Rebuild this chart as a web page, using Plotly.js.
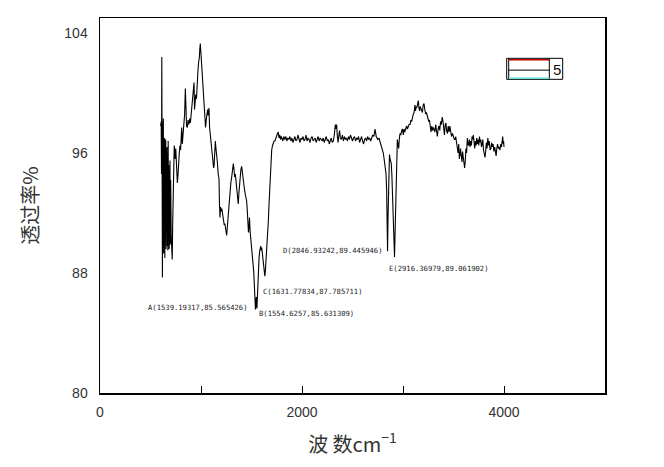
<!DOCTYPE html>
<html>
<head>
<meta charset="utf-8">
<script src="https://cdn.plot.ly/plotly-3.0.1.min.js"></script>
<style>html,body{margin:0;padding:0;background:#fff;}#chart{width:664px;height:467px;}</style>
</head>
<body>
<div id="chart"></div>
<script>
// Wavenumber (cm-1)
var wavenumber = [
600,603,606,609,612,615,618,621,624,627,
630,633,636,639,642,645,648,651,654,657,
660,663,666,669,672,675,678,681,684,687,
690,693,696,700,705,710,715,720,725,730,
735,740,745,750,755,760,766,772,778,785,
792,798,804,809,815,822,830,838,845,850,
857,865,872,880,888,895,903,911,918,924,
931,936,942,948,955,962,970,977,983,988,
993,998,1003,1010,1017,1023,1030,1036,1040,1045,
1052,1058,1065,1072,1079,1085,1092,1100,1106,1112,
1118,1125,1130,1136,1142,1148,1155,1162,1170,1178,
1183,1188,1194,1200,1206,1212,1218,1224,1230,1236,
1242,1248,1254,1260,1266,1272,1280,1287,1295,1304,
1312,1320,1327,1333,1340,1347,1355,1362,1369,1375,
1381,1388,1395,1403,1410,1416,1423,1430,1437,1445,
1452,1458,1464,1470,1476,1480,1486,1492,1498,1504,
1510,1516,1522,1528,1533,1539,1543,1547,1550,1554,
1558,1562,1568,1574,1580,1586,1591,1596,1601,1606,
1612,1617,1622,1627,1632,1637,1643,1650,1656,1662,
1667,1673,1678,1683,1690,1695,1700,1708,1716,1724,
1732,1740,1749,1757,1765,1772,1780,1788,1795,1803,
1811,1820,1830,1840,1850,1860,1870,1880,1890,1900,
1910,1920,1930,1940,1950,1960,1970,1980,1990,2000,
2010,2020,2030,2040,2050,2060,2070,2080,2090,2100,
2110,2120,2130,2140,2150,2160,2170,2180,2190,2200,
2210,2220,2230,2240,2250,2260,2270,2280,2290,2300,
2310,2320,2330,2337,2343,2350,2357,2365,2372,2380,
2390,2400,2410,2420,2430,2440,2450,2460,2470,2480,
2490,2500,2510,2520,2530,2540,2550,2560,2570,2580,
2590,2600,2610,2620,2630,2640,2650,2660,2670,2680,
2690,2700,2712,2723,2735,2750,2762,2772,2785,2795,
2805,2815,2825,2832,2838,2842,2847,2852,2857,2861,
2866,2872,2878,2884,2890,2896,2902,2908,2912,2916,
2921,2926,2931,2937,2944,2950,2957,2963,2970,2977,
2985,2992,2997,3003,3010,3018,3026,3036,3044,3052,
3060,3070,3078,3086,3094,3102,3110,3118,3124,3130,
3136,3144,3152,3158,3164,3170,3176,3184,3192,3200,
3208,3216,3224,3232,3240,3248,3255,3262,3270,3277,
3285,3292,3300,3308,3316,3324,3332,3340,3348,3356,
3364,3372,3380,3389,3396,3404,3410,3418,3425,3432,
3440,3448,3456,3464,3472,3480,3490,3500,3508,3515,
3522,3530,3537,3545,3552,3558,3564,3570,3577,3584,
3590,3597,3604,3610,3617,3623,3630,3637,3643,3650,
3657,3664,3670,3677,3684,3690,3696,3703,3710,3717,
3724,3730,3737,3744,3750,3757,3764,3770,3777,3784,
3790,3797,3804,3812,3818,3825,3832,3840,3847,3854,
3862,3870,3878,3885,3892,3900,3908,3915,3922,3929,
3936,3944,3952,3960,3968,3975,3982,3987,3992,3996,
4000
];
// Transmittance (%)
var transmittance = [
97.8,95.0,98.1,94.6,102.4,88.2,87.7,97.2,89.9,98.3,
89.3,96.2,90.4,97.0,89.0,96.4,90.3,96.9,89.6,95.8,
90.0,96.4,89.8,95.9,89.5,96.8,90.2,95.2,89.6,94.8,
90.4,95.5,89.9,94.2,90.5,89.6,88.9,91.4,93.6,95.3,
96.5,96.1,95.6,96.3,95.6,95.0,94.0,94.5,95.9,96.0,
96.5,96.2,97.0,97.7,96.6,97.2,98.0,98.6,100.3,99.0,
97.8,97.7,98.2,97.9,98.3,98.0,98.7,99.0,99.6,100.6,
100.7,98.9,99.3,99.9,99.6,100.8,101.5,102.1,102.3,102.9,
103.3,102.8,102.2,101.3,100.9,100.5,99.6,98.8,98.1,97.7,
98.2,98.6,98.9,98.5,99.0,97.7,97.2,96.6,96.2,96.0,
95.3,95.0,95.2,96.1,96.8,96.3,96.0,95.4,94.6,94.3,
92.6,91.7,92.4,92.1,92.3,92.0,91.8,91.5,91.2,91.3,
91.0,90.6,90.5,91.0,91.6,92.4,93.1,93.7,94.0,94.4,
95.0,95.3,94.9,94.4,94.6,94.0,93.6,93.2,92.6,93.3,
94.0,94.5,94.9,95.1,94.6,94.2,93.9,93.6,93.3,93.0,
92.8,92.2,91.5,90.7,91.2,91.7,90.8,90.3,89.9,89.6,
89.2,88.9,88.1,87.2,86.3,85.57,85.9,86.4,86.1,85.63,
86.6,87.4,88.2,88.9,89.4,89.7,89.8,89.5,89.7,89.4,
89.1,88.8,88.4,88.0,87.79,88.1,88.7,89.3,90.1,90.9,
91.5,92.5,93.3,94.2,95.2,95.8,96.2,96.5,96.7,96.8,
96.8,97.0,97.1,97.3,97.4,97.0,97.2,96.9,97.1,97.0,
96.8,97.1,96.9,97.1,96.8,97.0,96.9,97.1,96.8,97.0,
96.7,96.9,97.1,96.8,96.9,97.2,96.9,96.7,97.0,96.9,
97.1,96.8,96.9,97.2,96.8,97.0,96.9,96.7,97.0,97.1,
96.8,96.9,97.0,96.7,96.9,97.1,96.8,97.0,96.9,96.8,
97.0,96.7,96.9,97.1,96.8,96.9,96.6,96.8,97.0,96.7,
96.8,97.2,97.9,97.6,97.9,97.1,96.7,97.2,97.5,97.0,
96.9,97.2,96.8,97.1,96.9,97.0,96.8,97.1,96.9,97.2,
96.9,96.8,97.0,97.1,96.8,97.0,96.9,97.1,96.7,96.9,
97.1,96.8,96.6,96.9,97.0,96.8,97.1,96.9,97.0,96.8,
97.0,97.2,97.1,97.6,97.1,96.9,97.0,96.8,96.5,96.3,
96.0,95.5,94.9,94.6,93.5,91.5,89.45,91.8,94.5,95.7,
95.9,95.6,95.5,95.3,94.5,93.2,91.9,90.6,89.7,89.06,
90.5,92.3,94.1,95.6,96.9,96.6,96.3,96.9,97.3,97.2,
97.4,97.6,97.5,97.2,97.6,97.4,97.6,97.8,97.6,97.7,
97.9,97.9,98.2,98.1,98.4,98.6,98.7,99.2,98.8,99.1,
99.0,99.3,99.5,99.0,98.8,99.1,99.0,98.9,98.7,99.2,
99.3,98.9,98.6,98.7,98.4,98.3,98.1,98.2,97.6,97.4,
97.8,97.5,97.7,97.6,97.4,97.9,97.3,97.1,97.6,97.8,
97.5,98.1,97.9,98.4,98.1,97.6,97.2,97.9,98.0,97.5,
97.3,97.8,97.4,97.8,97.3,97.1,97.3,97.0,96.9,96.9,
97.1,96.7,96.4,96.0,96.6,95.6,95.9,96.3,95.8,95.4,
96.1,95.7,95.4,95.0,95.5,96.3,96.0,97.0,96.6,96.5,
96.9,96.4,96.8,96.5,97.1,96.9,97.2,96.6,96.3,96.8,
96.5,97.0,96.6,96.9,96.5,97.1,96.7,96.9,96.4,96.6,
96.9,96.2,96.0,95.7,96.1,96.7,96.3,97.0,96.5,96.8,
96.2,96.3,96.7,96.4,96.6,96.1,96.4,96.0,95.8,96.3,
96.6,96.3,96.4,96.2,96.6,96.4,97.0,97.1,96.6,96.8,
96.4
];
// Peak labels
var peakLabels = ["A(1539.19317,85.565426)","B(1554.6257,85.631309)","C(1631.77834,87.785711)","D(2846.93242,89.445946)","E(2916.36979,89.061902)"];
var labelX = [1490, 1554, 1591, 2822, 2838];
var labelY = [85.67, 85.3, 86.75, 89.53, 88.31];
var labelAnchor = ["right","left","left","right","left"];
var yTicks = [80, 88, 96, 104];
var legendName = "5";

var trace = {
  x: wavenumber, y: transmittance, type: 'scatter', mode: 'lines',
  line: {color: '#000', width: 1.1}, hoverinfo: 'skip', showlegend: false
};

var annotations = peakLabels.map(function(t, i){
  return {x: labelX[i], y: labelY[i], xref: 'x', yref: 'y', text: t, showarrow: false,
    xanchor: labelAnchor[i], yanchor: 'middle',
    font: {family: 'DejaVu Sans Mono, monospace', size: 7.2, color: '#222'}};
});
annotations.push({x: 0.904, y: 0.864, xref: 'paper', yref: 'paper', text: legendName, showarrow: false,
  xanchor: 'center', yanchor: 'middle', font: {family: 'Liberation Sans, Arial', size: 15, color: '#111'}});

var shapes = [
  {type:'rect', xref:'paper', yref:'paper', x0:0.8053, x1:0.9162, y0:0.8365, y1:0.8925, line:{color:'#000', width:1}},
  {type:'line', xref:'paper', yref:'paper', x0:0.8897, x1:0.8897, y0:0.8365, y1:0.8925, line:{color:'#000', width:1}},
  {type:'line', xref:'paper', yref:'paper', x0:0.8093, x1:0.8093, y0:0.8365, y1:0.8925, line:{color:'#000', width:1}},
  {type:'line', xref:'paper', yref:'paper', x0:0.8093, x1:0.8897, y0:0.889, y1:0.889, line:{color:'#c00000', width:1.5}},
  {type:'line', xref:'paper', yref:'paper', x0:0.8093, x1:0.8897, y0:0.861, y1:0.861, line:{color:'#000', width:1}},
  {type:'line', xref:'paper', yref:'paper', x0:0.8093, x1:0.8897, y0:0.8395, y1:0.8395, line:{color:'#5ee0e0', width:1.5}}
];

var layout = {
  width: 664, height: 467,
  margin: {l: 100, r: 59, t: 18, b: 74},
  paper_bgcolor: '#fff', plot_bgcolor: '#fff',
  showlegend: false,
  xaxis: {
    range: [0, 5000], tickvals: [0, 2000, 4000], ticktext: ['0','2000','4000'],
    ticks: 'inside', ticklen: 7, tickwidth: 1, tickcolor: '#000',
    minor: {tickvals: [1000, 3000], ticks: 'inside', ticklen: 7, tickwidth: 1, tickcolor: '#000'},
    showgrid: false, zeroline: false, showline: true, mirror: true, linecolor: '#000', linewidth: 1.5,
    tickfont: {family: 'Liberation Sans, Arial', size: 14, color: '#333'},
    ticklabelstandoff: 6,
    title: {text: '波 数cm<sup>−1</sup>', font: {family: 'Noto Sans CJK SC', size: 20, color: '#333'}, standoff: 18}
  },
  yaxis: {
    range: [80, 105], tickvals: yTicks, ticks: '',
    showgrid: false, zeroline: false, showline: true, mirror: true, linecolor: '#000', linewidth: 1.5,
    tickfont: {family: 'Liberation Sans, Arial', size: 14, color: '#333'},
    ticklabelstandoff: 8,
    title: {text: '透过率%', font: {family: 'Noto Sans CJK SC', size: 20, color: '#333'}, standoff: 20}
  },
  annotations: annotations,
  shapes: shapes
};

Plotly.newPlot('chart', [trace], layout, {staticPlot: true, displayModeBar: false});
</script>
</body>
</html>
